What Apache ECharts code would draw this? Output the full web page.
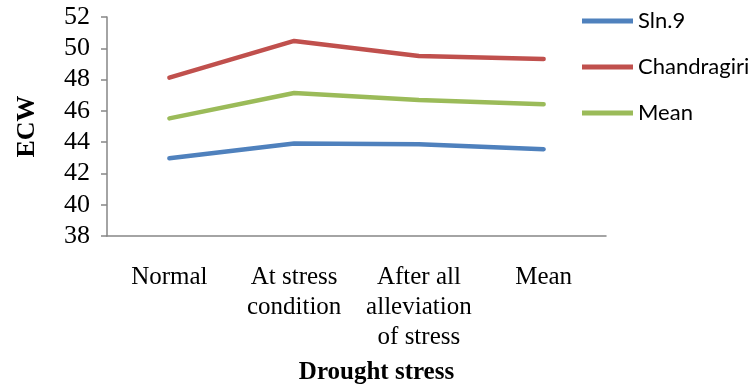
<!DOCTYPE html>
<html>
<head>
<meta charset="utf-8">
<script src="https://cdn.jsdelivr.net/npm/echarts@6/dist/echarts.min.js"></script>
<style>html,body{margin:0;padding:0;background:#fff;}#c{width:748px;height:385px;}</style>
</head>
<body>
<div id="c"></div>
<script>
const categories = ["Normal", "At stress\ncondition", "After all\nalleviation\nof stress", "Mean"];
const sln9 = [42.97, 43.92, 43.87, 43.55];
const chandragiri = [48.12, 50.47, 49.5, 49.32];
const meanSeries = [45.52, 47.14, 46.69, 46.43];
const yTicks = { min: 38, max: 52, interval: 2 };

const chart = echarts.init(document.getElementById('c'));
const serif = '"Liberation Serif", "Times New Roman", serif';
const lineStyle = (c) => ({ color: c, width: 4.5, cap: 'round', join: 'round' });
chart.setOption({
  animation: false,
  grid: { left: 107, top: 17, right: 142, bottom: 149, containLabel: false, outerBoundsMode: 'none' },
  legend: {
    orient: 'vertical',
    left: 577, top: 5,
    itemWidth: 51, itemHeight: 5, itemGap: 24,
    icon: 'rect',
    textStyle: { fontFamily: 'Lato, "Open Sans", sans-serif', fontSize: 22, color: '#000' },
    data: ['Sln.9', 'Chandragiri', 'Mean']
  },
  xAxis: {
    type: 'category',
    data: categories,
    boundaryGap: true,
    axisLine: { lineStyle: { color: '#868686', width: 1.5 } },
    axisTick: { show: false },
    axisLabel: { fontFamily: serif, fontSize: 25, color: '#000', margin: 26, lineHeight: 30, interval: 0 },
    name: 'Drought stress',
    nameLocation: 'middle',
    nameGap: 124,
    nameTextStyle: { fontFamily: serif, fontSize: 25, fontWeight: 'bold', color: '#000', padding: [0, 0, 0, 40] }
  },
  yAxis: {
    type: 'value',
    min: yTicks.min, max: yTicks.max, interval: yTicks.interval,
    splitLine: { show: false },
    axisLine: { show: true, lineStyle: { color: '#868686', width: 1.5 } },
    axisTick: { show: true, length: 6, lineStyle: { color: '#868686', width: 1.5 } },
    axisLabel: { fontFamily: serif, fontSize: 26, color: '#000', margin: 17 },
    name: 'ECW',
    nameLocation: 'middle',
    nameGap: 67,
    nameRotate: 90,
    nameTextStyle: { fontFamily: serif, fontSize: 26, fontWeight: 'bold', color: '#000' }
  },
  series: [
    { name: 'Sln.9', type: 'line', data: sln9, symbol: 'none', lineStyle: lineStyle('#4F81BD'), itemStyle: { color: '#4F81BD' } },
    { name: 'Chandragiri', type: 'line', data: chandragiri, symbol: 'none', lineStyle: lineStyle('#C0504D'), itemStyle: { color: '#C0504D' } },
    { name: 'Mean', type: 'line', data: meanSeries, symbol: 'none', lineStyle: lineStyle('#9BBB59'), itemStyle: { color: '#9BBB59' } }
  ]
});
</script>
</body>
</html>
